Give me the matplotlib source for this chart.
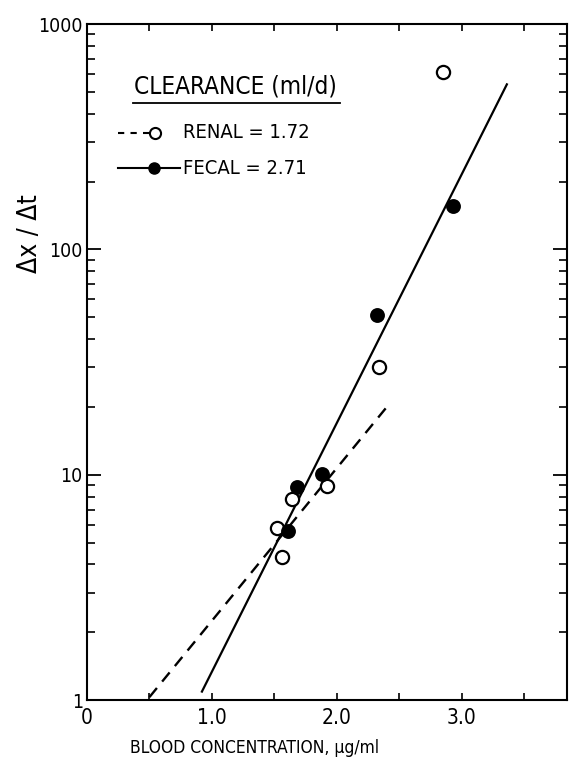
"""
Renal and fecal clearance: excretion rate vs blood concentration (semi-log).
"""

import matplotlib
matplotlib.use('Agg')
import matplotlib.pyplot as plt
from matplotlib.ticker import FixedLocator, MultipleLocator, LogLocator, NullFormatter

# Renal (open circles, dashed fit)
renal_x = [1.52, 1.56, 1.64, 1.92, 2.34, 2.85]
renal_y = [5.8, 4.3, 7.8, 8.9, 30.0, 610.0]
renal_fit_x = [0.50, 2.40]
renal_fit_y = [1.03, 20.0]

# Fecal (filled circles, solid fit)
fecal_x = [1.61, 1.68, 1.88, 2.32, 2.93]
fecal_y = [5.6, 8.8, 10.1, 51.0, 156.0]
fecal_fit_x = [0.92, 3.36]
fecal_fit_y = [1.09, 540.0]

x_ticks = [0, 1, 2, 3]
x_tick_labels = ['0', '1.0', '2.0', '3.0']
y_ticks = [1, 10, 100, 1000]
y_tick_labels = ['1', '10', '100', '1000']

legend_title = 'CLEARANCE (ml/d)'
renal_label = 'RENAL = 1.72'
fecal_label = 'FECAL = 2.71'

plt.rcParams['font.family'] = ['DejaVu Sans']
plt.rcParams['font.stretch'] = 'condensed'

fig = plt.figure(figsize=(5.72, 7.69), dpi=100)
ax = fig.add_axes([0.152, 0.0897, 0.839, 0.879])

ax.set_yscale('log')
ax.set_xlim(0, 3.84)
ax.set_ylim(1, 1000)

# Fit lines
ax.plot(renal_fit_x, renal_fit_y, color='black', linestyle=(0, (5, 3.5)), linewidth=1.7)
ax.plot(fecal_fit_x, fecal_fit_y, color='black', linestyle='-', linewidth=1.6)

# Data points
ax.plot(renal_x, renal_y, linestyle='none', marker='o', markersize=9.5,
        markerfacecolor='white', markeredgecolor='black', markeredgewidth=1.6)
ax.plot(fecal_x, fecal_y, linestyle='none', marker='o', markersize=9.5,
        markerfacecolor='black', markeredgecolor='black', markeredgewidth=1.2)

# Axes styling
for side in ax.spines.values():
    side.set_linewidth(1.5)

ax.xaxis.set_major_locator(FixedLocator(x_ticks))
ax.set_xticklabels(x_tick_labels)
ax.xaxis.set_minor_locator(MultipleLocator(0.5))
ax.yaxis.set_major_locator(FixedLocator(y_ticks))
ax.set_yticklabels(y_tick_labels)
ax.yaxis.set_minor_locator(LogLocator(base=10, subs=range(2, 10)))
ax.yaxis.set_minor_formatter(NullFormatter())

ax.tick_params(axis='both', which='both', direction='in', top=True, right=True, colors='black')
ax.tick_params(axis='x', which='both', length=5, width=1.2, pad=6, labelsize=15)
ax.tick_params(axis='y', which='major', length=10, width=1.3, pad=3, labelsize=14)
ax.tick_params(axis='y', which='minor', length=6, width=1.2)

ax.set_xlabel('BLOOD CONCENTRATION, \u03bcg/ml', fontsize=12.5)
ax.xaxis.set_label_coords(0.35, -0.058)
ax.set_ylabel('\u0394x / \u0394t', fontsize=19)
ax.yaxis.set_label_coords(-0.092, 0.69)

# Hand-drawn style legend
ax.text(0.098, 0.908, legend_title, transform=ax.transAxes, fontsize=17.5, va='center', ha='left')
ax.plot([0.096, 0.527], [0.883, 0.883], transform=ax.transAxes, color='black', linewidth=1.3)

ax.plot([0.065, 0.150], [0.839, 0.839], transform=ax.transAxes, color='black',
        linestyle=(0, (3, 3)), linewidth=1.5)
ax.plot([0.142], [0.839], transform=ax.transAxes, linestyle='none', marker='o', markersize=8,
        markerfacecolor='white', markeredgecolor='black', markeredgewidth=1.5)
ax.text(0.2, 0.839, renal_label, transform=ax.transAxes, fontsize=14.5, va='center', ha='left')

ax.plot([0.065, 0.193], [0.787, 0.787], transform=ax.transAxes, color='black', linewidth=1.5)
ax.plot([0.140], [0.787], transform=ax.transAxes, linestyle='none', marker='o', markersize=8,
        markerfacecolor='black', markeredgecolor='black')
ax.text(0.2, 0.787, fecal_label, transform=ax.transAxes, fontsize=14.5, va='center', ha='left')

fig.savefig('out.png', dpi=100, facecolor='white')
